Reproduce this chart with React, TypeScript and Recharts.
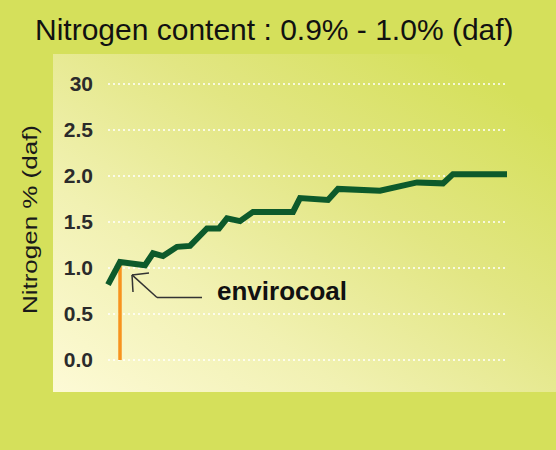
import { LineChart, Line, XAxis, YAxis, CartesianGrid, ReferenceLine, ReferenceDot, Label } from "recharts";

// sample position along the x direction (no axis shown) and nitrogen % (daf)
const samplePos = [0, 12, 37, 45, 55, 69, 82, 99, 111, 119, 132, 145, 185, 192, 220, 230, 272, 309, 335, 345, 399];
const nitrogen = [0.82, 1.065, 1.03, 1.16, 1.13, 1.23, 1.24, 1.43, 1.43, 1.54, 1.51, 1.61, 1.61, 1.76, 1.74, 1.86, 1.84, 1.93, 1.92, 2.02, 2.02];
const yTicks = [0, 0.5, 1, 1.5, 2, 2.5, 3];
const yTickLabels = ["0.0", "0.5", "1.0", "1.5", "2.0", "2.5", "30"];
const envirocoalIndex = 1;

const data = samplePos.map((x, i) => ({ x, n: nitrogen[i] }));
const envX = samplePos[envirocoalIndex];
const envY = nitrogen[envirocoalIndex];

const font = "Arial, 'Liberation Sans', sans-serif";

const YTitle = () => (
  <text
    x={37}
    y={219.5}
    transform="rotate(-90, 37, 219.5)"
    textAnchor="middle"
    fontSize={21}
    fontFamily={font}
    fill="#1a1a1a"
    textLength={189}
    lengthAdjust="spacingAndGlyphs"
  >
    Nitrogen % (daf)
  </text>
);

export default function App() {
  return (
    <div style={{ position: "absolute", left: 0, top: 0, width: 556, height: 450, background: "#d5e05b", overflow: "hidden", fontFamily: font }}>
      <div
        style={{
          position: "absolute",
          left: 53,
          top: 54,
          width: 503,
          height: 338,
          background: "linear-gradient(35deg, #fdfad6 0%, #f1f1b2 30%, #e2e683 60%, #d5e05b 90%)",
        }}
      />
      <div style={{ position: "absolute", left: 35, top: 15, fontSize: 30, lineHeight: "30px", color: "#111", whiteSpace: "nowrap" }}>
        Nitrogen content : 0.9% - 1.0% (daf)
      </div>
      <div style={{ position: "absolute", left: 0, top: 0 }}>
        <LineChart width={556} height={450} data={data} margin={{ top: 84, right: 49, bottom: 90, left: 48 }}>
          <CartesianGrid vertical={false} stroke="#ffffff" strokeDasharray="2 3" strokeWidth={1.5} />
          <XAxis type="number" dataKey="x" domain={[0, 399]} hide />
          <YAxis
            width={60}
            domain={[0, 3]}
            ticks={yTicks}
            interval={0}
            axisLine={false}
            tickLine={false}
            tickMargin={9}
            tickFormatter={(v: number) => yTickLabels[yTicks.indexOf(v)]}
            tick={{ fill: "#2b2b2b", fontSize: 21, fontWeight: "bold", fontFamily: font }}
          >
            <Label content={<YTitle />} />
          </YAxis>
          <ReferenceLine
            segment={[{ x: envX, y: 0 }, { x: envX, y: envY }]}
            stroke="#f7931e"
            strokeWidth={3.5}
          />
          <Line
            type="linear"
            dataKey="n"
            stroke="#0d5a2b"
            strokeWidth={6}
            dot={false}
            isAnimationActive={false}
          />
          {/* envirocoal pointer */}
          <ReferenceLine segment={[{ x: 24, y: 0.925 }, { x: 49, y: 0.68 }]} stroke="#333" strokeWidth={1.5} />
          <ReferenceLine segment={[{ x: 49, y: 0.68 }, { x: 94, y: 0.68 }]} stroke="#333" strokeWidth={1.5} />
          <ReferenceLine segment={[{ x: 24, y: 0.925 }, { x: 41, y: 0.946 }]} stroke="#333" strokeWidth={1.5} />
          <ReferenceLine segment={[{ x: 24, y: 0.925 }, { x: 25, y: 0.74 }]} stroke="#333" strokeWidth={1.5} />
          <ReferenceDot
            x={109}
            y={0.752}
            r={0}
            fill="none"
            stroke="none"
            label={{ value: "envirocoal", position: "right", offset: 0, fill: "#111", fontSize: 26, fontWeight: "bold", fontFamily: font }}
          />
        </LineChart>
      </div>
    </div>
  );
}
